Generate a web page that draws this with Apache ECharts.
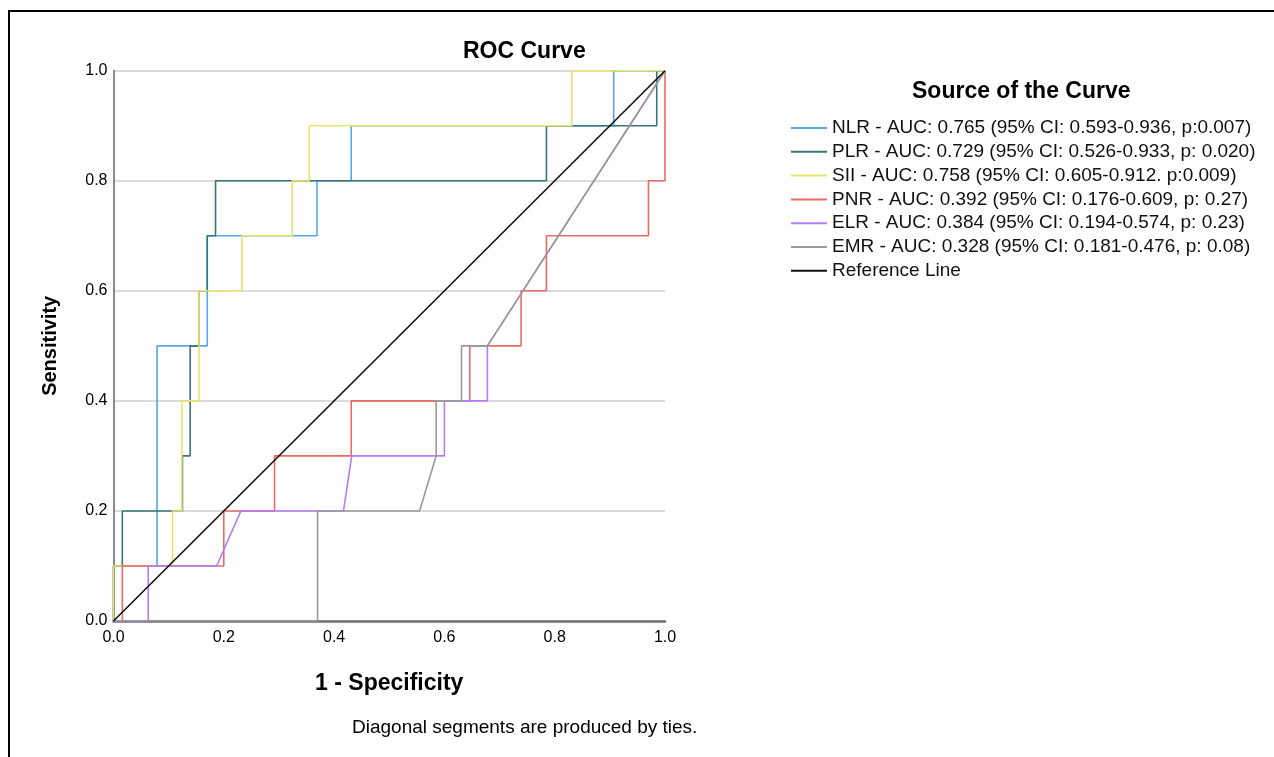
<!DOCTYPE html>
<html>
<head>
    <meta charset="UTF-8">
    <title>ROC Curve</title>
    <style>
        body { margin: 0; background: #fff; }
        #frame { position: absolute; left: 8px; top: 10px; width: 1300px; height: 800px; border: 2px solid #000; }
        #main { position: absolute; left: 0; top: 0; width: 1274px; height: 757px; }
    </style>
</head>
<body>
<div id="frame"></div>
<div id="main"></div>

<script type="text/javascript" src="https://cdn.jsdelivr.net/npm/echarts@6/dist/echarts.min.js"></script>
<script type="text/javascript">

    // 1 - Specificity / Sensitivity points for each curve
    var nlrX = [0, 0, 0.079, 0.079, 0.170, 0.170, 0.369, 0.369, 0.431, 0.431, 0.907, 0.907, 1];
    var nlrY = [0, 0.1, 0.1, 0.5, 0.5, 0.7, 0.7, 0.8, 0.8, 0.9, 0.9, 1, 1];

    var plrX = [0, 0, 0.016, 0.016, 0.125, 0.125, 0.139, 0.139, 0.155, 0.155, 0.170, 0.170, 0.185, 0.185, 0.785, 0.785, 0.985, 0.985, 1];
    var plrY = [0, 0.1, 0.1, 0.2, 0.2, 0.3, 0.3, 0.5, 0.5, 0.6, 0.6, 0.7, 0.7, 0.8, 0.8, 0.9, 0.9, 1, 1];

    var siiX = [0, 0, 0.107, 0.107, 0.124, 0.124, 0.155, 0.155, 0.233, 0.233, 0.324, 0.324, 0.355, 0.355, 0.831, 0.831, 1];
    var siiY = [0, 0.1, 0.1, 0.2, 0.2, 0.4, 0.4, 0.6, 0.6, 0.7, 0.7, 0.8, 0.8, 0.9, 0.9, 1, 1];

    var pnrX = [0, 0.016, 0.016, 0.200, 0.200, 0.292, 0.292, 0.431, 0.431, 0.646, 0.646, 0.739, 0.739, 0.785, 0.785, 0.970, 0.970, 1, 1];
    var pnrY = [0, 0, 0.1, 0.1, 0.2, 0.2, 0.3, 0.3, 0.4, 0.4, 0.5, 0.5, 0.6, 0.6, 0.7, 0.7, 0.8, 0.8, 1];

    var elrX = [0, 0.063, 0.063, 0.187, 0.231, 0.417, 0.432, 0.600, 0.600, 0.678, 0.678, 1];
    var elrY = [0, 0, 0.1, 0.1, 0.2, 0.2, 0.3, 0.3, 0.4, 0.4, 0.5, 1];

    var emrX = [0, 0.370, 0.370, 0.555, 0.585, 0.585, 0.631, 0.631, 0.678, 1];
    var emrY = [0, 0, 0.2, 0.2, 0.3, 0.4, 0.4, 0.5, 0.5, 1];

    var refX = [0, 1];
    var refY = [0, 1];

    var curveNames = [
        'NLR - AUC: 0.765 (95% CI: 0.593-0.936, p:0.007)',
        'PLR - AUC: 0.729 (95% CI: 0.526-0.933, p: 0.020)',
        'SII - AUC: 0.758 (95% CI: 0.605-0.912. p:0.009)',
        'PNR - AUC: 0.392 (95% CI: 0.176-0.609, p: 0.27)',
        'ELR - AUC: 0.384 (95% CI: 0.194-0.574, p: 0.23)',
        'EMR - AUC: 0.328 (95% CI: 0.181-0.476, p: 0.08)',
        'Reference Line'
    ];
    var curveColors = ['#5aa6ea', '#3a7576', '#eae36a', '#ec6a62', '#b27ef6', '#9a9a9a', '#111111'];

    function pairs(xs, ys) {
        var out = [];
        for (var i = 0; i < xs.length; i++) out.push([xs[i], ys[i]]);
        return out;
    }
    var curveData = [
        pairs(nlrX, nlrY), pairs(plrX, plrY), pairs(siiX, siiY),
        pairs(pnrX, pnrY), pairs(elrX, elrY), pairs(emrX, emrY), pairs(refX, refY)
    ];

    var font = "'Liberation Sans', Arial, sans-serif";
    var myChart = echarts.init(document.getElementById('main'));

    var series = curveNames.map(function (name, i) {
        return {
            name: name,
            type: 'line',
            symbol: 'none',
            color: curveColors[i],
            lineStyle: { width: 1.6, color: curveColors[i] },
            data: curveData[i]
        };
    });

    var option = {
        animation: false,
        textStyle: { fontFamily: font },
        grid: { left: 113.5, right: 609, top: 70.7, bottom: 136 },
        graphic: [
            { type: 'text', left: 463, top: 40, style: { text: 'ROC Curve', font: 'bold 23px ' + font, fill: '#000' } },
            { type: 'text', left: 912, top: 80, style: { text: 'Source of the Curve', font: 'bold 23px ' + font, fill: '#000' } },
            { type: 'text', left: 352, top: 718, style: { text: 'Diagonal segments are produced by ties.', font: '19px ' + font, fill: '#000' } }
        ],
        legend: {
            orient: 'vertical',
            left: 786,
            top: 113,
            icon: 'rect',
            itemWidth: 36,
            itemHeight: 2,
            itemGap: 3.8,
            data: curveNames,
            textStyle: { fontSize: 19, lineHeight: 20, color: '#111', fontFamily: font }
        },
        xAxis: {
            type: 'value',
            min: 0, max: 1, interval: 0.2,
            name: '1 - Specificity',
            nameLocation: 'middle',
            nameGap: 51,
            nameTextStyle: { fontSize: 23, fontWeight: 'bold', color: '#000' },
            axisLine: { show: true, onZero: false, lineStyle: { color: '#707070', width: 2.5 } },
            axisTick: { show: false },
            splitLine: { show: false },
            axisLabel: { margin: 9, fontSize: 16, color: '#000', formatter: function (v) { return v.toFixed(1); } }
        },
        yAxis: {
            type: 'value',
            min: 0, max: 1, interval: 0.2,
            name: 'Sensitivity',
            nameLocation: 'middle',
            nameGap: 53,
            nameTextStyle: { fontSize: 20, fontWeight: 'bold', color: '#000' },
            axisLine: { show: true, lineStyle: { color: '#8a8a8a', width: 2 } },
            axisTick: { show: false },
            splitLine: { show: true, lineStyle: { color: '#cfcfcf', width: 1.6 } },
            axisLabel: { margin: 6, fontSize: 16, color: '#000', formatter: function (v) { return v.toFixed(1); } }
        },
        series: series
    };

    myChart.setOption(option);

</script>
</body>
</html>
